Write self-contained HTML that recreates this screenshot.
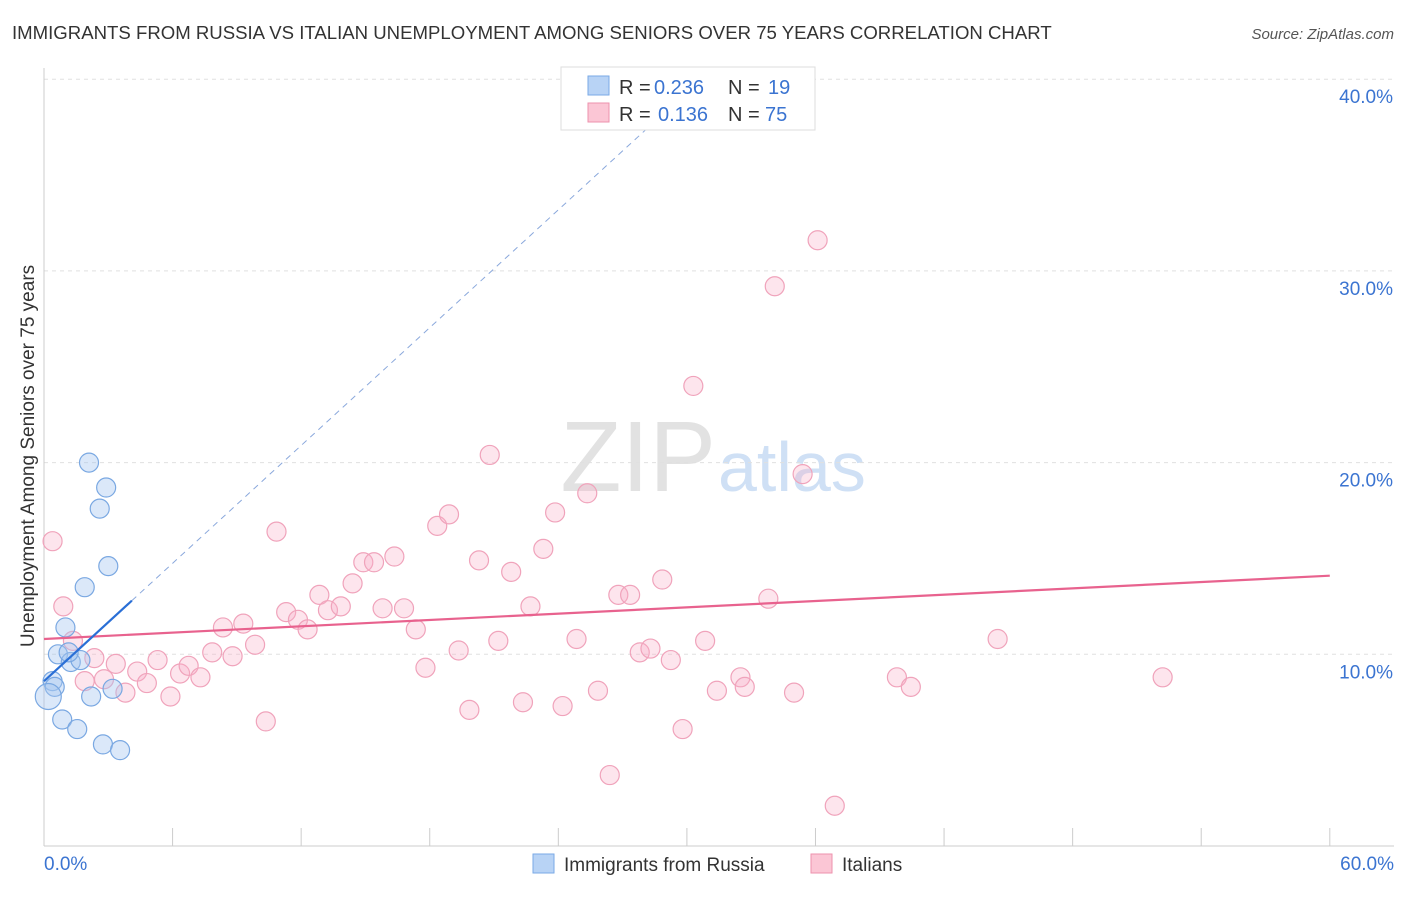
<!DOCTYPE html>
<html><head><meta charset="utf-8"><style>
body{margin:0;background:#fff;font-family:"Liberation Sans",sans-serif;}
svg text{font-family:"Liberation Sans",sans-serif;}
</style></head><body>
<svg id="c" width="1406" height="892" xmlns="http://www.w3.org/2000/svg">
<text x="12" y="39" font-size="18.6" fill="#333">IMMIGRANTS FROM RUSSIA VS ITALIAN UNEMPLOYMENT AMONG SENIORS OVER 75 YEARS CORRELATION CHART</text>
<text x="1394" y="39" font-size="15" fill="#555" font-style="italic" text-anchor="end">Source: ZipAtlas.com</text>
<text x="716" y="491" font-size="100" fill="#e2e2e2" text-anchor="end" font-family="Liberation Serif">ZIP</text>
<text x="718" y="491" font-size="70" fill="#cfe0f5">atlas</text>
<g id="grid"></g>
<g id="axes"></g>
<g id="pts"></g>
<g id="lines"></g>
<text transform="translate(34,456) rotate(-90)" font-size="19" fill="#333" text-anchor="middle">Unemployment Among Seniors over 75 years</text>
<g>
<rect x="561" y="67" width="254" height="63" fill="#fff" stroke="#ddd"/>
<rect x="588" y="76" width="21" height="19" fill="#b8d3f5" stroke="#7aaae6"/>
<rect x="588" y="103" width="21" height="19" fill="#fbc6d5" stroke="#ee92ad"/>
<text x="619" y="94" font-size="20" fill="#333">R = <tspan x="654" fill="#3b74d1">0.236</tspan><tspan x="728">N = </tspan><tspan x="768" fill="#3b74d1">19</tspan></text>
<text x="619" y="121" font-size="20" fill="#333">R = <tspan x="658" fill="#3b74d1">0.136</tspan><tspan x="728">N = </tspan><tspan x="765" fill="#3b74d1">75</tspan></text>
</g>
<g>
<rect x="533" y="854" width="21" height="19" fill="#b8d3f5" stroke="#7aaae6"/>
<text x="564" y="871" font-size="19" fill="#333">Immigrants from Russia</text>
<rect x="811" y="854" width="21" height="19" fill="#fbc6d5" stroke="#ee92ad"/>
<text x="842" y="871" font-size="19" fill="#333">Italians</text>
</g>
</svg>
<script>
const yTicks=[10,20,30,40];
const yTickLabels=["10.0%","20.0%","30.0%","40.0%"];
const xTickLabels=["0.0%","60.0%"];
const russiaX=[2.1,2.9,2.6,3.0,1.9,1.0,0.65,1.25,1.7,0.4,0.5,0.2,2.2,3.2,0.85,1.55,2.75,3.55,1.15];
const russiaY=[20.0,18.7,17.6,14.6,13.5,11.4,10.0,9.6,9.7,8.6,8.3,7.8,7.8,8.2,6.6,6.1,5.3,5.0,10.1];
const italX=[0.4,0.9,1.35,2.35,1.9,2.8,3.35,3.8,4.35,4.8,5.3,5.9,6.35,6.75,7.3,7.85,8.35,8.8,9.3,9.85,10.35,10.85,11.3,11.85,12.3,12.85,13.25,13.85,14.4,14.9,15.4,16.35,15.8,16.8,17.35,17.8,18.35,18.9,19.35,19.85,20.3,20.8,21.2,21.8,22.35,22.7,23.3,23.85,24.2,24.85,25.35,25.85,26.4,26.8,27.35,27.8,28.3,28.85,29.25,29.8,30.3,30.85,31.4,32.5,32.7,33.8,34.1,35.0,35.4,36.1,36.9,39.8,40.45,44.5,52.2];
const italY=[15.9,12.5,10.7,9.8,8.6,8.7,9.5,8.0,9.1,8.5,9.7,7.8,9.0,9.4,8.8,10.1,11.4,9.9,11.6,10.5,6.5,16.4,12.2,11.8,11.3,13.1,12.3,12.5,13.7,14.8,14.8,15.1,12.4,12.4,11.3,9.3,16.7,17.3,10.2,7.1,14.9,20.4,10.7,14.3,7.5,12.5,15.5,17.4,7.3,10.8,18.4,8.1,3.7,13.1,13.1,10.1,10.3,13.9,9.7,6.1,24.0,10.7,8.1,8.8,8.3,12.9,29.2,8.0,19.4,31.6,2.1,8.8,8.3,10.8,8.8];
const trendRussia=[8.6,12.8];
const trendItal=[10.8,14.1];
const NS="http://www.w3.org/2000/svg";
const X=v=>44+v*21.43, Y=v=>846-v*19.17;
function mk(t,a,p){const e=document.createElementNS(NS,t);for(const k in a)e.setAttribute(k,a[k]);p.appendChild(e);return e;}
const g=document.getElementById('grid'),ax=document.getElementById('axes'),pts=document.getElementById('pts'),ln=document.getElementById('lines');
yTicks.forEach((t,i)=>{
 const l=mk('line',{x1:44,x2:1394,y1:Y(t),y2:Y(t),stroke:'#e0e0e0','stroke-dasharray':'4,4'},g);
 
 
 const tx=mk('text',{x:1393,y:Y(t)+24,'font-size':19,fill:'#3b74d1','text-anchor':'end'},g);
 tx.textContent=yTickLabels[i];
 
 
});
let a=mk('line',{x1:44,x2:44,y1:68,y2:846,stroke:'#ccc'},ax);


a=mk('line',{x1:44,x2:1394,y1:846,y2:846,stroke:'#ccc'},ax);


for(let i=1;i<=10;i++){const v=i*6;const t=mk('line',{x1:X(v),x2:X(v),y1:828,y2:846,stroke:'#ccc'},ax);
 
 }
[[0,'start',44],[60,'end',1394]].forEach((d,i)=>{const t=mk('text',{x:d[2],y:870,'font-size':19,fill:'#3b74d1','text-anchor':d[1]},ax);t.textContent=xTickLabels[i];
 
 });
italX.forEach((x,i)=>{const c=mk('circle',{cx:X(x),cy:Y(italY[i]),r:9.5,fill:'rgba(248,175,198,0.32)',stroke:'#f0a3bb','stroke-width':1.2},pts);
 
 });
russiaX.forEach((x,i)=>{const c=mk('circle',{cx:X(x),cy:Y(russiaY[i]),r:i==11?13:9.5,fill:'rgba(165,198,240,0.4)',stroke:'#7aa8e2','stroke-width':1.2},pts);
 
 });
let l=mk('line',{x1:X(0),y1:Y(trendItal[0]),x2:X(60),y2:Y(trendItal[1]),stroke:'#e8628e','stroke-width':2.2},ln);


const slope=(trendRussia[1]-trendRussia[0])/4.1;
const xe=(39.2-trendRussia[0])/slope;
l=mk('line',{x1:X(4.1),y1:Y(trendRussia[1]),x2:X(xe),y2:Y(39.2),stroke:'#8aa8dc','stroke-width':1,'stroke-dasharray':'6,5'},ln);


l=mk('line',{x1:X(0),y1:Y(trendRussia[0]),x2:X(4.1),y2:Y(trendRussia[1]),stroke:'#2a6fd6','stroke-width':2.2},ln);


</script>
</body></html>
